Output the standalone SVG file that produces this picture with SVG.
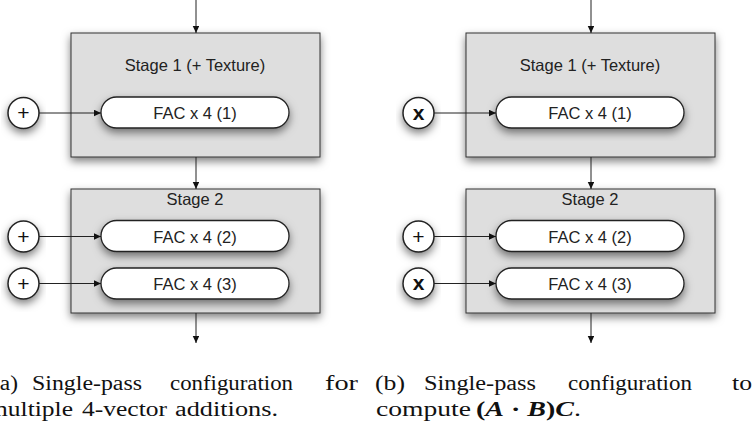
<svg xmlns="http://www.w3.org/2000/svg" width="756" height="429" viewBox="0 0 756 429">
<defs>
<filter id="sh" x="-20%" y="-30%" width="140%" height="170%">
<feDropShadow dx="0" dy="4" stdDeviation="4.5" flood-color="#000" flood-opacity="0.5"/>
</filter>
<marker id="ah" markerWidth="7" markerHeight="7" refX="7" refY="3.25" orient="auto" markerUnits="userSpaceOnUse">
<path d="M0,0 L7,3.25 L0,6.5 z" fill="#111"/>
</marker>
<style>
.box{fill:#dedede;stroke:#333;stroke-width:1;filter:url(#sh)}
.pill{fill:#fff;stroke:#222;stroke-width:1.3;filter:url(#sh)}
.op{fill:#fff;stroke:#222;stroke-width:1.5;filter:url(#sh)}
.lbl{font-family:"Liberation Sans",Arial,sans-serif;font-size:16.5px;fill:#222;text-anchor:middle}
.opt{font-family:"Liberation Sans",Arial,sans-serif;font-size:21px;fill:#111;text-anchor:middle}
.cn{stroke:#222;stroke-width:1;fill:none;marker-end:url(#ah)}
.cap{font-family:"Liberation Serif","Times New Roman",serif;font-size:20px;fill:#111}
</style>
</defs>
<g id="panel-a">
<g id="a-stage1"><rect class="box" x="71" y="33" width="249" height="124"/><text class="lbl" x="195" y="71">Stage 1 (+ Texture)</text></g>
<g id="a-stage2"><rect class="box" x="71" y="189" width="249" height="124"/><text class="lbl" x="195" y="205">Stage 2</text></g>
<g id="a-fac1"><rect class="pill" x="101" y="97" width="188" height="31" rx="15.5"/><text class="lbl" x="195" y="119">FAC x 4 (1)</text></g>
<g id="a-fac2"><rect class="pill" x="101" y="220.5" width="188" height="31" rx="15.5"/><text class="lbl" x="195" y="242.5">FAC x 4 (2)</text></g>
<g id="a-fac3"><rect class="pill" x="101" y="268" width="188" height="31" rx="15.5"/><text class="lbl" x="195" y="290">FAC x 4 (3)</text></g>
<g id="a-op1"><circle class="op" cx="23.5" cy="113" r="15.5"/><text class="opt" x="23.5" y="120">+</text></g>
<g id="a-op2"><circle class="op" cx="23.5" cy="236.5" r="15.5"/><text class="opt" x="23.5" y="243.5">+</text></g>
<g id="a-op3"><circle class="op" cx="23.5" cy="283.5" r="15.5"/><text class="opt" x="23.5" y="290.5">+</text></g>
</g>
<g id="panel-b">
<g id="b-stage1"><rect class="box" x="466" y="33" width="249" height="124"/><text class="lbl" x="590" y="71">Stage 1 (+ Texture)</text></g>
<g id="b-stage2"><rect class="box" x="466" y="189" width="249" height="124"/><text class="lbl" x="590" y="205">Stage 2</text></g>
<g id="b-fac1"><rect class="pill" x="496" y="97" width="188" height="31" rx="15.5"/><text class="lbl" x="590" y="119">FAC x 4 (1)</text></g>
<g id="b-fac2"><rect class="pill" x="496" y="220.5" width="188" height="31" rx="15.5"/><text class="lbl" x="590" y="242.5">FAC x 4 (2)</text></g>
<g id="b-fac3"><rect class="pill" x="496" y="268" width="188" height="31" rx="15.5"/><text class="lbl" x="590" y="290">FAC x 4 (3)</text></g>
<g id="b-op1"><circle class="op" cx="418.5" cy="113" r="15.5"/><text class="opt" x="418.5" y="119.5" font-weight="bold" font-size="18">x</text></g>
<g id="b-op2"><circle class="op" cx="418.5" cy="236.5" r="15.5"/><text class="opt" x="418.5" y="243.5">+</text></g>
<g id="b-op3"><circle class="op" cx="418.5" cy="283.5" r="15.5"/><text class="opt" x="418.5" y="290" font-weight="bold" font-size="18">x</text></g>
</g>
<g id="connectors">
<path class="cn" d="M196,0 V33"/>
<path class="cn" d="M196,157 V189"/>
<path class="cn" d="M196,313 V343"/>
<path class="cn" d="M39,113 H101"/>
<path class="cn" d="M39,236.5 H101"/>
<path class="cn" d="M39,283.5 H101"/>
<path class="cn" d="M591,0 V33"/>
<path class="cn" d="M591,157 V189"/>
<path class="cn" d="M591,313 V343"/>
<path class="cn" d="M434,113 H496"/>
<path class="cn" d="M434,236.5 H496"/>
<path class="cn" d="M434,283.5 H496"/>
</g>
<g id="captions">
<text class="cap" x="-8" y="390" textLength="26" lengthAdjust="spacingAndGlyphs">(a)</text>
<text class="cap" x="32" y="390" textLength="110" lengthAdjust="spacingAndGlyphs">Single-pass</text>
<text class="cap" x="170" y="390" textLength="123" lengthAdjust="spacingAndGlyphs">configuration</text>
<text class="cap" x="325" y="390" textLength="33" lengthAdjust="spacingAndGlyphs">for</text>
<text class="cap" x="-12" y="416" textLength="85" lengthAdjust="spacingAndGlyphs">multiple</text>
<text class="cap" x="82" y="416" textLength="85" lengthAdjust="spacingAndGlyphs">4-vector</text>
<text class="cap" x="175" y="416" textLength="103" lengthAdjust="spacingAndGlyphs">additions.</text>
<text class="cap" x="375" y="390" textLength="30" lengthAdjust="spacingAndGlyphs">(b)</text>
<text class="cap" x="424" y="390" textLength="112" lengthAdjust="spacingAndGlyphs">Single-pass</text>
<text class="cap" x="568" y="390" textLength="124" lengthAdjust="spacingAndGlyphs">configuration</text>
<text class="cap" x="732" y="390" textLength="20" lengthAdjust="spacingAndGlyphs">to</text>
<text class="cap" x="376" y="416" textLength="95" lengthAdjust="spacingAndGlyphs">compute</text>
<text class="cap" x="476" y="416" textLength="105" lengthAdjust="spacingAndGlyphs" font-weight="bold">(<tspan font-style="italic">A</tspan> · <tspan font-style="italic">B</tspan>)<tspan font-style="italic">C</tspan><tspan font-weight="normal">.</tspan></text>
</g>
</svg>
